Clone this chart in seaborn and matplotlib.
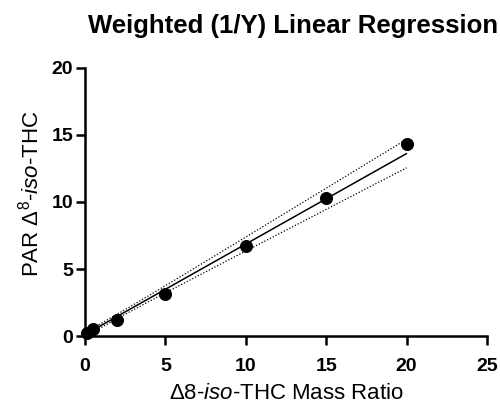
import numpy as np
import pandas as pd
import matplotlib
matplotlib.use("Agg")
import matplotlib.pyplot as plt
import seaborn as sns

mass_ratio = [0.1, 0.5, 2, 5, 10, 15, 20]
par = [0.2, 0.55, 1.2, 3.15, 6.7, 10.3, 14.35]
x_ticks = [0, 5, 10, 15, 20, 25]
y_ticks = [0, 5, 10, 15, 20]

sns.set_theme(style="ticks")
plt.rcParams['font.family'] = ['Liberation Sans', 'DejaVu Sans']
plt.rcParams['mathtext.fontset'] = 'custom'
plt.rcParams['mathtext.rm'] = 'Liberation Sans'
plt.rcParams['mathtext.it'] = 'Liberation Sans:italic'

x = np.array(mass_ratio, float)
y = np.array(par, float)
w = 1.0 / y
X = np.column_stack([np.ones_like(x), x])
W = np.diag(w)
XtWX = X.T @ W @ X
beta = np.linalg.solve(XtWX, X.T @ W @ y)
res = y - X @ beta
s2 = np.sum(w * res**2) / (len(x) - 2)
cov = s2 * np.linalg.inv(XtWX)
xf = np.linspace(0, 20, 100)
Xf = np.column_stack([np.ones_like(xf), xf])
yf = Xf @ beta
se = np.sqrt(np.einsum('ij,jk,ik->i', Xf, cov, Xf))
t = 2.571
fit = pd.DataFrame({"x": xf, "fit": yf, "lo": yf - t * se, "hi": yf + t * se})
pts = pd.DataFrame({"x": x, "y": y})

fig = plt.figure(figsize=(5, 4.07), dpi=100)
ax = fig.add_axes([0.17, 0.1744, 0.804, 0.6586])
sns.lineplot(data=fit, x="x", y="fit", ax=ax, color="black", lw=1.1)
sns.lineplot(data=fit, x="x", y="lo", ax=ax, color="black", lw=0.9, linestyle=(0, (1, 1.5)))
sns.lineplot(data=fit, x="x", y="hi", ax=ax, color="black", lw=0.9, linestyle=(0, (1, 1.5)))
sns.scatterplot(data=pts, x="x", y="y", ax=ax, color="black", s=75, edgecolor="black", zorder=5, clip_on=False)

ax.set_xlim(0, 25)
ax.set_ylim(0, 20)
ax.set_xticks(x_ticks)
ax.set_yticks(y_ticks)
ax.set_xticklabels([str(v) for v in x_ticks], fontsize=14, fontweight="bold")
ax.set_yticklabels([str(v) for v in y_ticks], fontsize=14, fontweight="bold")
for s in ["top", "right"]:
    ax.spines[s].set_visible(False)
for s in ["left", "bottom"]:
    ax.spines[s].set_linewidth(1.8)
    ax.spines[s].set_color("black")
ax.tick_params(axis="both", length=6.5, width=1.8, color="black", labelcolor="black", pad=2)
ax.tick_params(axis="x", pad=9)
ax.set_xlabel(r"Δ8-$\it{iso}$-THC Mass Ratio", fontsize=16, labelpad=6, color="black")
ax.set_ylabel(r"PAR Δ$^{8}$-$\it{iso}$-THC", fontsize=16, labelpad=4, color="black")
ax.yaxis.set_label_coords(-0.103, 0.53)
fig.text(0.586, 0.935, "Weighted (1/Y) Linear Regression", fontsize=18.5,
         fontweight="bold", ha="center", va="center", color="black")
fig.savefig("out.png", dpi=100)
